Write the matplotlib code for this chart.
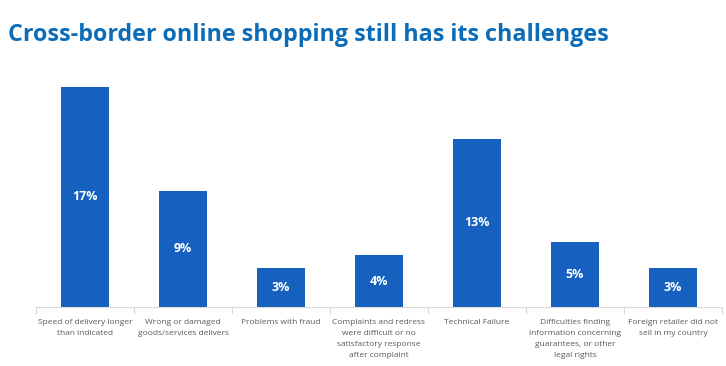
import matplotlib
matplotlib.use("Agg")
import matplotlib.pyplot as plt

categories = [
    "Speed of delivery longer\nthan indicated",
    "Wrong or damaged\ngoods/services delivers",
    "Problems with fraud",
    "Complaints and redress\nwere difficult or no\nsatisfactory response\nafter complaint",
    "Technical Failure",
    "Difficulties finding\ninformation concerning\nguarantees, or other\nlegal rights",
    "Foreign retailer did not\nsell in my country",
]
values = [17, 9, 3, 4, 13, 5, 3]
value_labels = ["17%", "9%", "3%", "4%", "13%", "5%", "3%"]
title = "Cross-border online shopping still has its challenges"

fig = plt.figure(figsize=(7.26, 3.66), dpi=100)
ax = fig.add_axes([36/726, 1-307/366, 686/726, (307-87)/366])
x = range(len(values))
bars = ax.bar(x, values, width=0.48, color="#1660C0")
ax.set_xlim(-0.5, len(values)-0.5)
ax.set_ylim(0, 17)
for i, (v, lab) in enumerate(zip(values, value_labels)):
    ax.text(i, v/2, lab, ha="center", va="center", color="white",
            fontsize=9, fontweight="bold", family="Open Sans")
for s in ["top", "right", "left"]:
    ax.spines[s].set_visible(False)
ax.spines["bottom"].set_color("#D9D9D9")
ax.set_yticks([])
ax.set_xticks([i - 0.5 for i in range(len(values)+1)], minor=False)
ax.set_xticklabels([""]*(len(values)+1))
ax.tick_params(axis="x", length=5, color="#D9D9D9")
for i, c in enumerate(categories):
    ax.text(i, -0.95, c, ha="center", va="top", fontsize=6.0, color="#595959",
            family="Open Sans", linespacing=1.75, transform=ax.transData)
fig.text(8/726, 1-35/366, title, ha="left", va="center", fontsize=16.75,
         fontweight="bold", color="#0B6CBA", family="Open Sans")
fig.savefig("out.png", dpi=100)
